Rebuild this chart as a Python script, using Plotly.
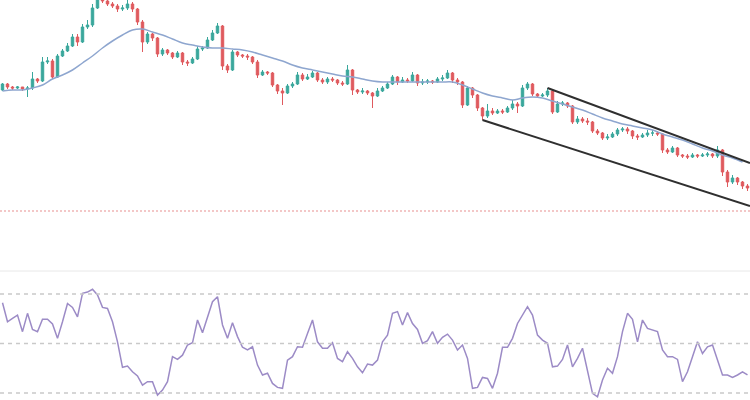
import plotly.graph_objects as go

# ---- price candles (index-based x) ----
opens = [210,216,213,212,213,211,212,221,219,238,
         239,223,244,249,254,263,258,273,275,292,
         302,299,296,294,291,292,296,291,278,258,
         266,262,246,250,247,243,247,238,237,241,
         251,252,260,267,274,234,230,248,245,244,
         243,238,225,228,227,215,209,207,214,216,
         225,221,223,227,220,218,221,220,217,216,
         230,210,208,209,207,204,209,212,216,223,
         218,220,219,225,217,218,219,218,221,222,
         227,220,218,195,212,205,192,184,189,187,
         189,188,192,196,194,212,216,206,204,205,
         209,188,196,197,194,178,181,179,178,169,
         167,162,163,166,170,171,169,164,163,165,
         167,167,166,150,148,152,145,144,143,145,
         144,145,146,144,150,128,118,122,118,114]
closes = [216,213,212,213,211,212,221,219,238,239,
          223,244,249,254,263,258,273,275,292,302,
          299,296,294,291,292,296,291,278,258,266,
          262,246,250,247,243,247,238,237,241,251,
          252,260,267,274,234,230,248,245,244,243,
          238,225,228,227,215,209,207,214,216,225,
          221,223,227,220,218,221,220,217,216,230,
          210,208,209,207,204,209,212,216,223,218,
          220,219,225,217,218,219,218,221,222,227,
          220,218,195,212,205,192,184,189,187,189,
          188,192,196,194,212,216,206,204,205,209,
          188,196,197,194,178,181,179,178,169,167,
          162,163,166,170,171,169,164,163,165,167,
          167,166,150,148,152,145,144,143,145,144,
          145,146,144,150,128,118,122,118,114,112]
highs = [217,217,214,214,213,214,228,222,243,243,
         241,246,251,257,266,266,276,280,296,308,
         305,300,298,296,295,300,298,292,280,268,
         267,263,252,251,248,249,248,240,243,254,
         254,263,270,277,275,236,250,249,246,246,
         244,240,230,229,228,216,212,216,218,228,
         227,226,229,228,222,223,223,221,219,235,
         231,211,212,210,208,212,214,218,225,224,
         223,222,228,226,221,221,220,223,225,230,
         228,222,219,214,213,206,193,196,192,191,
         191,194,200,198,215,218,217,207,207,212,
         210,199,199,198,195,184,183,182,179,171,
         168,166,168,172,173,173,170,166,167,170,
         170,169,167,152,154,153,146,146,147,146,
         147,148,147,154,151,130,125,123,119,116]
lows = [209,211,210,211,209,203,210,217,218,236,
        221,222,243,248,253,254,257,271,273,291,
        297,294,292,288,289,290,288,275,248,256,
        259,243,244,245,241,242,235,234,236,240,
        249,251,259,266,230,227,229,243,242,240,
        236,222,224,225,213,206,195,206,212,215,
        219,220,222,218,216,216,218,215,214,215,
        205,206,206,205,192,203,208,211,215,215,
        217,217,218,214,215,216,216,217,219,221,
        217,215,192,194,202,189,180,182,185,186,
        186,187,190,187,193,210,204,202,203,203,
        186,187,194,192,176,176,177,175,167,165,
        160,160,162,164,168,166,161,160,162,163,
        164,164,147,146,147,143,142,141,142,142,
        143,143,142,142,124,113,116,115,111,109]
candle_x = list(range(len(closes)))

# ---- moving average (read every other candle) ----
ma_x = list(range(0, 150, 2))
ma_values = [209,210,210,212,215,221,225,230,237,244,
             252,259,265,270,271,268,265,261,257,255,
             253,252,252,251,250,248,245,242,239,235,
             232,230,228,226,224,223,221,219,218,218,
             218,218,218,218,218,218,215,211,207,204,
             202,200,202,203,202,199,196,193,190,186,
             182,179,176,174,172,170,166,163,160,156,
             152,149,145,142,138]

# ---- channel trend lines ----
upper_x = [109, 149.5]
upper_y = [212, 137]
lower_x = [96, 149.5]
lower_y = [180, 94]
support_level = 89

# ---- RSI ----
rsi = [66.5,58.8,60.2,61.5,54.8,62.2,55.7,54.8,59.8,59.8,
       57.9,52.1,58.8,66.2,64.6,60.8,70.3,70.8,71.9,69.6,
       64.6,64.2,58.8,50.7,40.4,40.9,38.6,36.9,33.2,34.6,
       34.6,29.2,31.2,34.6,44.7,43.6,45.3,49.4,50.3,59.5,
       54.4,60.8,66.9,68.9,57.5,52.1,58.4,52.8,48.5,47.4,
       48.7,41.3,37.3,38.0,33.9,32.3,31.9,43.3,44.7,48.7,
       48.5,54.1,59.5,50.7,48.1,48.1,50.3,44.0,42.7,46.7,
       44.0,40.6,38.2,41.7,41.3,
       43.3,50.7,53.4,62.2,62.9,57.5,62.5,58.1,55.7,50.1,
       51.2,54.8,50.1,52.5,53.8,51.4,47.4,49.4,44.0,31.9,
       32.3,36.3,35.9,31.9,38.0,48.5,48.5,52.1,58.1,61.5,
       64.9,61.5,53.4,51.4,50.1,40.6,40.9,43.6,49.4,40.6,
       44.0,48.1,38.6,29.9,28.5,35.3,40.0,38.0,44.7,54.8,
       62.2,59.8,50.7,59.5,56.1,55.5,54.8,47.4,44.7,44.7,
       43.6,34.6,38.6,44.7,50.7,46.0,48.7,49.4,43.3,37.3,
       37.3,36.3,37.3,38.6,37.3]
rsi_levels = [70, 50, 30]

fig = go.Figure()
fig.add_trace(go.Candlestick(
    x=candle_x, open=opens, high=highs, low=lows, close=closes,
    increasing=dict(line=dict(color="#3aa79c", width=1), fillcolor="#3aa79c"),
    decreasing=dict(line=dict(color="#df5a5e", width=1), fillcolor="#df5a5e"),
    whiskerwidth=0, showlegend=False, hoverinfo="skip"))
fig.add_trace(go.Scatter(x=ma_x, y=ma_values, mode="lines",
                         line=dict(color="#8ea6cf", width=1.5, shape="spline"),
                         showlegend=False, hoverinfo="skip"))
fig.add_trace(go.Scatter(x=upper_x, y=upper_y, mode="lines",
                         line=dict(color="#2f2f2f", width=2), showlegend=False,
                         hoverinfo="skip"))
fig.add_trace(go.Scatter(x=lower_x, y=lower_y, mode="lines",
                         line=dict(color="#2f2f2f", width=2), showlegend=False,
                         hoverinfo="skip"))
fig.add_trace(go.Scatter(x=candle_x, y=rsi, mode="lines", yaxis="y2",
                         line=dict(color="#9c8bc6", width=1.5),
                         showlegend=False, hoverinfo="skip"))

# support dotted line
fig.add_shape(type="line", xref="paper", x0=0, x1=1, yref="y",
              y0=support_level, y1=support_level,
              line=dict(color="rgba(225,120,120,0.55)", width=1.5, dash="2px,2px"))
# pane separator
fig.add_shape(type="line", xref="paper", x0=0, x1=1, yref="paper",
              y0=0.3225, y1=0.3225, line=dict(color="#e8e8e8", width=1))
for lv in rsi_levels:
    fig.add_shape(type="line", xref="paper", x0=0, x1=1, yref="y2",
                  y0=lv, y1=lv, line=dict(color="#c9c9c9", width=1.5, dash="4px,4px"))

fig.update_layout(
    width=750, height=400,
    margin=dict(l=0, r=0, t=0, b=0),
    paper_bgcolor="white", plot_bgcolor="white",
    xaxis=dict(range=[-0.5, 149.5], visible=False, rangeslider=dict(visible=False),
               domain=[0, 1]),
    yaxis=dict(range=[30, 300], domain=[0.325, 1], visible=False),
    yaxis2=dict(range=[27.2, 79.3], domain=[0, 0.3225], visible=False, anchor="x"),
    showlegend=False,
    hovermode=False,
)
fig.write_html(
    "out.html",
    config={"displayModeBar": False, "staticPlot": True},
    post_script="document.body.style.margin='0';document.body.style.padding='0';"
                "document.body.style.overflow='hidden';",
)
